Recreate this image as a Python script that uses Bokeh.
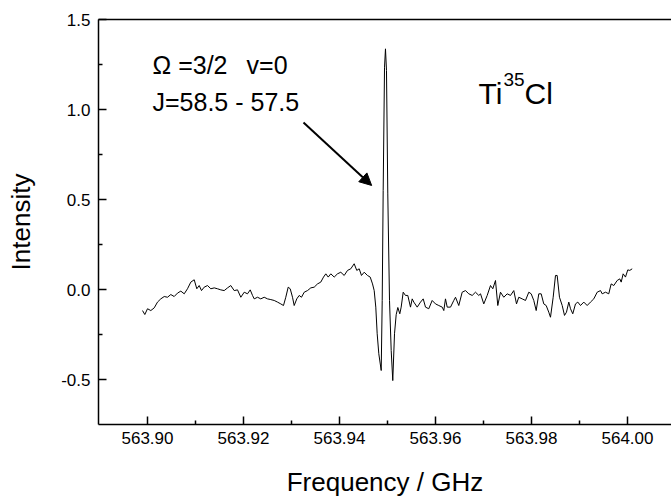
from bokeh.plotting import figure
from bokeh.models import (Range1d, LinearAxis, Label, Arrow, NormalHead, FixedTicker,
                          PrintfTickFormatter, ColumnDataSource)
from bokeh.embed import file_html
from bokeh.resources import INLINE

# ---- data ----
freq = [
    563.89896, 563.89944, 563.90000, 563.90069, 563.90140, 563.90208, 563.90277, 563.90348,
    563.90417, 563.90485, 563.90556, 563.90625, 563.90694, 563.90765, 563.90833, 563.90902,
    563.90973, 563.91027, 563.91077, 563.91125, 563.91181, 563.91250, 563.91319, 563.91390,
    563.91458, 563.91527, 563.91598, 563.91667, 563.91735, 563.91806, 563.91875, 563.91944,
    563.92015, 563.92083, 563.92140, 563.92188, 563.92223, 563.92292, 563.92360, 563.92431,
    563.92500, 563.92569, 563.92640, 563.92708, 563.92777, 563.92833, 563.92881, 563.92931,
    563.92973, 563.93021, 563.93056, 563.93110, 563.93160, 563.93208, 563.93265, 563.93333,
    563.93402, 563.93473, 563.93542, 563.93610, 563.93667, 563.93715, 563.93765, 563.93819,
    563.93890, 563.93958, 563.94027, 563.94098, 563.94167, 563.94235, 563.94306, 563.94360,
    563.94410, 563.94458, 563.94515, 563.94583, 563.94640, 563.94688, 563.94723, 563.94756,
    563.94785, 563.94819, 563.94869, 563.94890, 563.94910, 563.94938, 563.94958, 563.94979,
    563.95006, 563.95042, 563.95077, 563.95110, 563.95146, 563.95181, 563.95215, 563.95256,
    563.95285, 563.95327, 563.95375, 563.95423, 563.95479, 563.95515, 563.95548, 563.95619,
    563.95688, 563.95744, 563.95792, 563.95860, 563.95931, 563.96000, 563.96069, 563.96140,
    563.96173, 563.96208, 563.96244, 563.96313, 563.96381, 563.96417, 563.96485, 563.96556,
    563.96625, 563.96694, 563.96765, 563.96833, 563.96902, 563.96938, 563.97006, 563.97077,
    563.97146, 563.97194, 563.97250, 563.97298, 563.97354, 563.97423, 563.97494, 563.97563,
    563.97631, 563.97688, 563.97735, 563.97806, 563.97875, 563.97944, 563.97994, 563.98048,
    563.98098, 563.98152, 563.98202, 563.98256, 563.98306, 563.98360, 563.98396, 563.98452,
    563.98500, 563.98535, 563.98583, 563.98640, 563.98688, 563.98729, 563.98777, 563.98813,
    563.98860, 563.98917, 563.98965, 563.99021, 563.99090, 563.99160, 563.99229, 563.99298,
    563.99369, 563.99438, 563.99473, 563.99542, 563.99610, 563.99660, 563.99715, 563.99785,
    563.99840, 563.99869, 563.99910, 563.99958, 564.00006, 564.00048, 564.00098,
]
intensity = [
    -0.117, -0.139, -0.107, -0.117, -0.102, -0.070, -0.052, -0.039,
    -0.043, -0.028, -0.039, -0.020, -0.009, -0.024, 0.004, 0.041,
    0.054, 0.004, 0.022, -0.006, 0.013, 0.022, 0.004, 0.009,
    0.004, -0.002, -0.006, 0.009, 0.022, -0.006, -0.002, -0.043,
    -0.015, -0.024, -0.002, -0.033, -0.052, -0.043, -0.052, -0.043,
    -0.052, -0.056, -0.061, -0.070, -0.080, -0.089, -0.043, 0.013,
    0.004, -0.043, -0.089, -0.052, -0.033, -0.043, -0.015, -0.006,
    0.009, 0.013, 0.031, 0.041, 0.069, 0.087, 0.069, 0.087,
    0.069, 0.087, 0.096, 0.078, 0.106, 0.115, 0.143, 0.106,
    0.115, 0.078, 0.096, 0.078, 0.069, 0.031, -0.006, -0.098,
    -0.246, -0.357, -0.450, -0.061, 0.550, 1.235, 1.337, 1.217,
    0.531, -0.061, -0.339, -0.506, -0.246, -0.140, -0.100, -0.135,
    -0.098, -0.015, -0.033, -0.033, -0.098, -0.052, -0.070, -0.098,
    -0.070, -0.052, -0.098, -0.107, -0.061, -0.080, -0.089, -0.098,
    -0.117, -0.052, -0.098, -0.098, -0.061, -0.043, -0.089, -0.015,
    -0.006, -0.024, -0.033, -0.015, -0.033, -0.024, -0.080, -0.033,
    0.022, 0.004, 0.050, -0.089, -0.015, -0.043, -0.024, -0.033,
    -0.006, -0.080, -0.043, -0.052, -0.061, -0.015, -0.024, -0.061,
    -0.117, -0.024, -0.024, -0.080, -0.089, -0.126, -0.154, -0.043,
    0.078, 0.078, -0.043, -0.089, -0.144, -0.126, -0.070, -0.107,
    -0.135, -0.080, -0.070, -0.089, -0.070, -0.089, -0.070, -0.052,
    -0.015, -0.006, -0.024, -0.015, -0.024, 0.031, 0.022, 0.050,
    0.059, 0.041, 0.087, 0.069, 0.109, 0.106, 0.115,
]

x_major = [563.90, 563.92, 563.94, 563.96, 563.98, 564.00]
x_minor = [563.91, 563.93, 563.95, 563.97, 563.99]
y_major = [-0.5, 0.0, 0.5, 1.0, 1.5]
y_minor = [-0.25, 0.25, 0.75, 1.25]

FONT = "Liberation Sans"

p = figure(width=671, height=500, output_backend="svg", toolbar_location=None,
           x_range=Range1d(563.88979, 564.00917), y_range=Range1d(-0.75, 1.5),
           min_border_left=98, min_border_right=0, min_border_top=19, min_border_bottom=76,
           x_axis_label="Frequency / GHz", y_axis_label="Intensity")
p.outline_line_color = None
p.grid.visible = False
p.background_fill_color = "white"
p.border_fill_color = "white"

p.xaxis.ticker = FixedTicker(ticks=x_major, minor_ticks=x_minor)
p.yaxis.ticker = FixedTicker(ticks=y_major, minor_ticks=y_minor)
p.xaxis.formatter = PrintfTickFormatter(format="%.2f")
p.yaxis.formatter = PrintfTickFormatter(format="%.1f")

for ax in (p.xaxis[0], p.yaxis[0]):
    ax.axis_line_width = 1.5
    ax.axis_line_color = "black"
    ax.major_tick_line_color = "black"
    ax.minor_tick_line_color = "black"
    ax.major_tick_line_width = 1.5
    ax.minor_tick_line_width = 1.5
    ax.major_tick_in = 8
    ax.major_tick_out = 0
    ax.minor_tick_in = 4
    ax.minor_tick_out = 0
    ax.major_label_text_font = FONT
    ax.major_label_text_font_size = "17px"
    ax.major_label_text_color = "black"
    ax.axis_label_text_font = FONT
    ax.axis_label_text_font_size = "26px"
    ax.axis_label_text_font_style = "normal"
    ax.axis_label_text_color = "black"

p.xaxis.major_label_standoff = 7
p.xaxis.axis_label_standoff = 20
p.yaxis.major_label_standoff = 8
p.yaxis.axis_label_standoff = 22

top = LinearAxis(ticker=FixedTicker(ticks=[]), major_label_text_font_size="0px",
                 major_tick_line_color=None, minor_tick_line_color=None,
                 axis_line_width=1.5, axis_line_color="black",
                 major_label_standoff=0)
p.add_layout(top, "above")

src = ColumnDataSource(dict(f=freq, i=intensity))
p.line("f", "i", source=src, line_color="black", line_width=1)

p.add_layout(Arrow(end=NormalHead(size=12, fill_color="black", line_color="black"),
                   x_start=563.9325, y_start=0.928, x_end=563.9467, y_end=0.578,
                   line_width=2, line_color="black"))

def lab(x, y, t, size, xo=0, yo=0):
    p.add_layout(Label(x=x, y=y, text=t, x_offset=xo, y_offset=yo,
                       text_font=FONT, text_font_size=size, text_color="black",
                       text_baseline="alphabetic", text_align="left"))

lab(563.90104, 1.245, "Ω =3/2", "25px")
lab(563.92063, 1.245, "v=0", "25px")
lab(563.90104, 1.04, "J=58.5 - 57.5", "25px")
lab(563.96896, 1.09, "Ti", "30px")
lab(563.96896, 1.09, "35", "19px", xo=25, yo=14)
lab(563.96896, 1.09, "Cl", "30px", xo=46)

open("out.html", "w").write(file_html(p, INLINE))
